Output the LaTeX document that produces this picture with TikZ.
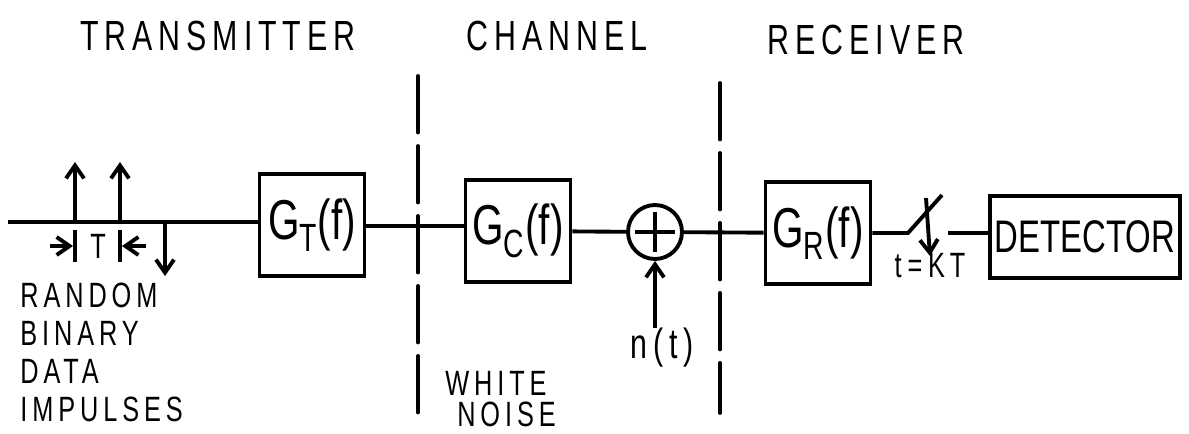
\documentclass[tikz,border=0pt]{standalone}
\usepackage{fontspec}
\usepackage{tikz}
\usetikzlibrary{positioning,arrows.meta}
\newfontfamily\handfont[FakeStretch=0.72]{Liberation Sans}
\newfontfamily\handwide[FakeStretch=0.72,LetterSpace=14]{Liberation Sans}
\newcommand{\blkfont}{\handfont\fontsize{32}{34}\selectfont}
\newcommand{\ttlfont}{\handwide\fontsize{24}{26}\selectfont}
\newcommand{\notefont}{\handwide\fontsize{20}{21.6}\selectfont}
\tikzset{
  blk/.style={draw,line width=2.2pt,minimum width=2.1cm,minimum height=2.05cm,inner sep=0pt,font=\blkfont},
  sig/.style={line width=2.2pt},
  sep/.style={line width=2.2pt,line cap=round,dash pattern=on 1.13cm off 0.27cm},
  imp/.style={line width=2.2pt,-{Straight Barb[length=2.6mm,width=3.6mm,line width=2.2pt]}},
  ttl/.style={font=\ttlfont,inner sep=0pt},
  note/.style={font=\notefont,inner sep=0pt,align=left,anchor=west}
}
\begin{document}
\begin{tikzpicture}[x=0.02cm,y=-0.02cm]
    \useasboundingbox (0,0) rectangle (1189,433);
    % section titles
    \node[ttl] (tx) at (218,36) {TRANSMITTER};
    \node[ttl] (ch) at (557,36) {CHANNEL};
    \node[ttl] (rx) at (866,40) {RECEIVER};
    % dividers
    \coordinate (d1t) at (418,76); \coordinate (d1b) at (418,413);
    \coordinate (d2t) at (720,83); \coordinate (d2b) at (720,413);
    \draw[sep] (d1t)--(d1b); \draw[sep] (d2t)--(d2b);
    % blocks
    \node[blk] (gt) at (312,225) {G\textsubscript{T}(f)};
    \node[blk] (gc) at (518,231) {G\textsubscript{C}(f)};
    \node[draw,circle,line width=2.2pt,minimum size=1.08cm,inner sep=0pt] (sum) at (655,232) {};
    \draw[sig] ([xshift=-0.4cm]sum.center)--([xshift=0.4cm]sum.center);
    \draw[sig] ([yshift=-0.4cm]sum.center)--([yshift=0.4cm]sum.center);
    \node[blk] (gr) at (818,233) {G\textsubscript{R}(f)};
    \node[blk,minimum width=3.8cm,minimum height=1.64cm,font=\handfont\fontsize{26}{28}\selectfont] (det) at (1085,237) {DETECTOR};
    % signal path
    \coordinate (in) at (8,222);
    \draw[sig] (in)--(gt.west|-in);
    \draw[sig] (gt.east|-0,226)--(gc.west|-0,226);
    \draw[sig] (gc)--(sum);
    \draw[sig] (sum)--(gr);
    \coordinate (s1) at (908,233); \coordinate (s2) at (942,195);
    \coordinate (s3) at (948,233);
    \draw[sig] (gr.east|-s1)--(s1)--(s2);
    \draw[sig] (s3)--(det.west|-s3);
    \coordinate (k1) at (926,198); \coordinate (k2) at (930,256);
    \draw[imp] (k1)--(k2);
    \node[font=\notefont,inner sep=0pt] (kt) at (930,266) {t\,=\,KT};
    % impulses
    \coordinate (i1) at (75,222); \coordinate (i2) at (120,222); \coordinate (i3) at (165,222);
    \draw[imp] (i1)--++(0,-60);
    \draw[imp] (i2)--++(0,-60);
    \draw[imp] (i3)--++(0,54);
    \draw[sig] (75,230)--(75,262); \draw[sig] (120,230)--(120,262);
    \node[font=\notefont,inner sep=0pt] (per) at (98,246) {T};
    \draw[imp] (50,246)--(73,246);
    \draw[imp] (146,246)--(122,246);
    \node[note] (rnd) at (20,352) {RANDOM\\BINARY\\DATA\\IMPULSES};
    % noise
    \node[font=\handwide\fontsize{24}{26}\selectfont,inner sep=0pt] (nt) at (662,348) {n(t)};
    \draw[imp] (sum|-nt.north)--(sum.south);
    \node[note] (wn) at (445,399) {WHITE\\[-3.6pt]\ NOISE};
  \end{tikzpicture}
\end{document}
